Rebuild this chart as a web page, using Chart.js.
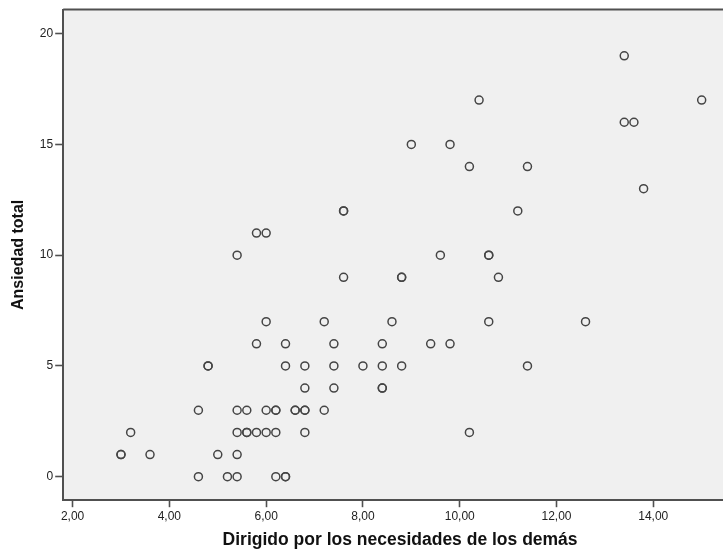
<!DOCTYPE html>
<html><head><meta charset="utf-8">
<script src="https://cdn.jsdelivr.net/npm/chart.js@4/dist/chart.umd.min.js"></script>
<style>
html,body{margin:0;padding:0;background:#fff;overflow:hidden}
#wrap{width:723px;height:555px;overflow:hidden;position:relative}
canvas{display:block}
</style></head>
<body><div id="wrap"><canvas id="c" width="751" height="555"></canvas></div>
<script>
// Data (duplicates = darker overlapping circles)
const xValues = [
  4.6, 5.2, 5.4, 6.2, 6.4, 6.4,
  3.0, 3.0, 3.6, 5.0, 5.4,
  3.2, 5.4, 5.6, 5.6, 5.8, 6.0, 6.2, 6.8, 10.2,
  4.6, 5.4, 5.6, 6.0, 6.2, 6.2, 6.6, 6.6, 6.8, 6.8, 7.2,
  6.8, 7.4, 8.4, 8.4,
  4.8, 4.8, 6.4, 6.8, 7.4, 8.0, 8.4, 8.8, 11.4,
  5.8, 6.4, 7.4, 8.4, 9.4, 9.8,
  6.0, 7.2, 8.6, 10.6, 12.6,
  7.6, 8.8, 8.8, 10.8,
  5.4, 9.6, 10.6, 10.6,
  5.8, 6.0,
  7.6, 7.6, 11.2,
  13.8,
  10.2, 11.4,
  9.0, 9.8,
  13.4, 13.6,
  10.4, 15.0,
  13.4
];
const yValues = [
  0, 0, 0, 0, 0, 0,
  1, 1, 1, 1, 1,
  2, 2, 2, 2, 2, 2, 2, 2, 2,
  3, 3, 3, 3, 3, 3, 3, 3, 3, 3, 3,
  4, 4, 4, 4,
  5, 5, 5, 5, 5, 5, 5, 5, 5,
  6, 6, 6, 6, 6, 6,
  7, 7, 7, 7, 7,
  9, 9, 9, 9,
  10, 10, 10, 10,
  11, 11,
  12, 12, 12,
  13,
  14, 14,
  15, 15,
  16, 16,
  17, 17,
  19
];
const xTicks = [2, 4, 6, 8, 10, 12, 14];
const yTicks = [0, 5, 10, 15, 20];
const xTitle = 'Dirigido por los necesidades de los demás';
const yTitle = 'Ansiedad total';

const points = xValues.map((x, i) => ({x: x, y: yValues[i]}));

const frame = {
  id: 'frame',
  beforeDraw(chart) {
    const {ctx, chartArea: a} = chart;
    ctx.save();
    ctx.fillStyle = '#f0f0f0';
    ctx.fillRect(a.left, a.top, a.right - a.left, a.bottom - a.top);
    ctx.restore();
  },
  afterDraw(chart) {
    const {ctx, chartArea: a} = chart;
    ctx.save();
    ctx.strokeStyle = '#505050';
    ctx.lineWidth = 2;
    ctx.beginPath();
    ctx.moveTo(a.left, a.top);
    ctx.lineTo(a.right, a.top);
    ctx.lineTo(a.right, a.bottom);
    ctx.stroke();
    ctx.restore();
  }
};

const tickFont = {family: '"Liberation Sans", Arial, sans-serif', size: 12};

new Chart(document.getElementById('c'), {
  type: 'scatter',
  data: {
    datasets: [{
      data: points,
      pointRadius: 4,
      pointHoverRadius: 4,
      pointBorderWidth: 1.5,
      borderColor: '#454545',
      backgroundColor: 'rgba(0,0,0,0)',
      pointBackgroundColor: 'rgba(0,0,0,0)',
      showLine: false
    }]
  },
  options: {
    responsive: false,
    animation: false,
    devicePixelRatio: 1,
    layout: {padding: {top: 9.5, right: 14, left: 0, bottom: 0}},
    plugins: {legend: {display: false}, tooltip: {enabled: false}},
    events: [],
    scales: {
      x: {
        type: 'linear',
        min: 1.806,
        max: 15.73,
        afterBuildTicks: s => { s.ticks = xTicks.map(v => ({value: v})); },
        afterFit: s => { s.height = 54.8; },
        grid: {drawOnChartArea: false, drawTicks: true, tickLength: 7, tickColor: '#505050', tickWidth: 1.6},
        border: {display: true, color: '#505050', width: 2},
        ticks: {
          font: tickFont, color: '#222', padding: 2, maxRotation: 0, autoSkip: false,
          callback: v => v.toFixed(2).replace('.', ',')
        },
        title: {
          display: true, text: xTitle, color: '#111',
          font: {family: '"Liberation Sans", Arial, sans-serif', size: 17.5, weight: 'bold'},
          padding: {top: 0, bottom: 4}
        }
      },
      y: {
        type: 'linear',
        min: -1.06,
        max: 21.09,
        afterBuildTicks: s => { s.ticks = yTicks.map(v => ({value: v})); },
        afterFit: s => { s.width = 63.2; },
        grid: {drawOnChartArea: false, drawTicks: true, tickLength: 8, tickColor: '#505050', tickWidth: 1.6},
        border: {display: true, color: '#505050', width: 2},
        ticks: {font: tickFont, color: '#222', padding: 2, autoSkip: false},
        title: {
          display: true, text: yTitle, color: '#111',
          font: {family: '"Liberation Sans", Arial, sans-serif', size: 16, weight: 'bold'},
          padding: {top: 9, bottom: 0}
        }
      }
    }
  },
  plugins: [frame]
});
</script>
</body></html>
